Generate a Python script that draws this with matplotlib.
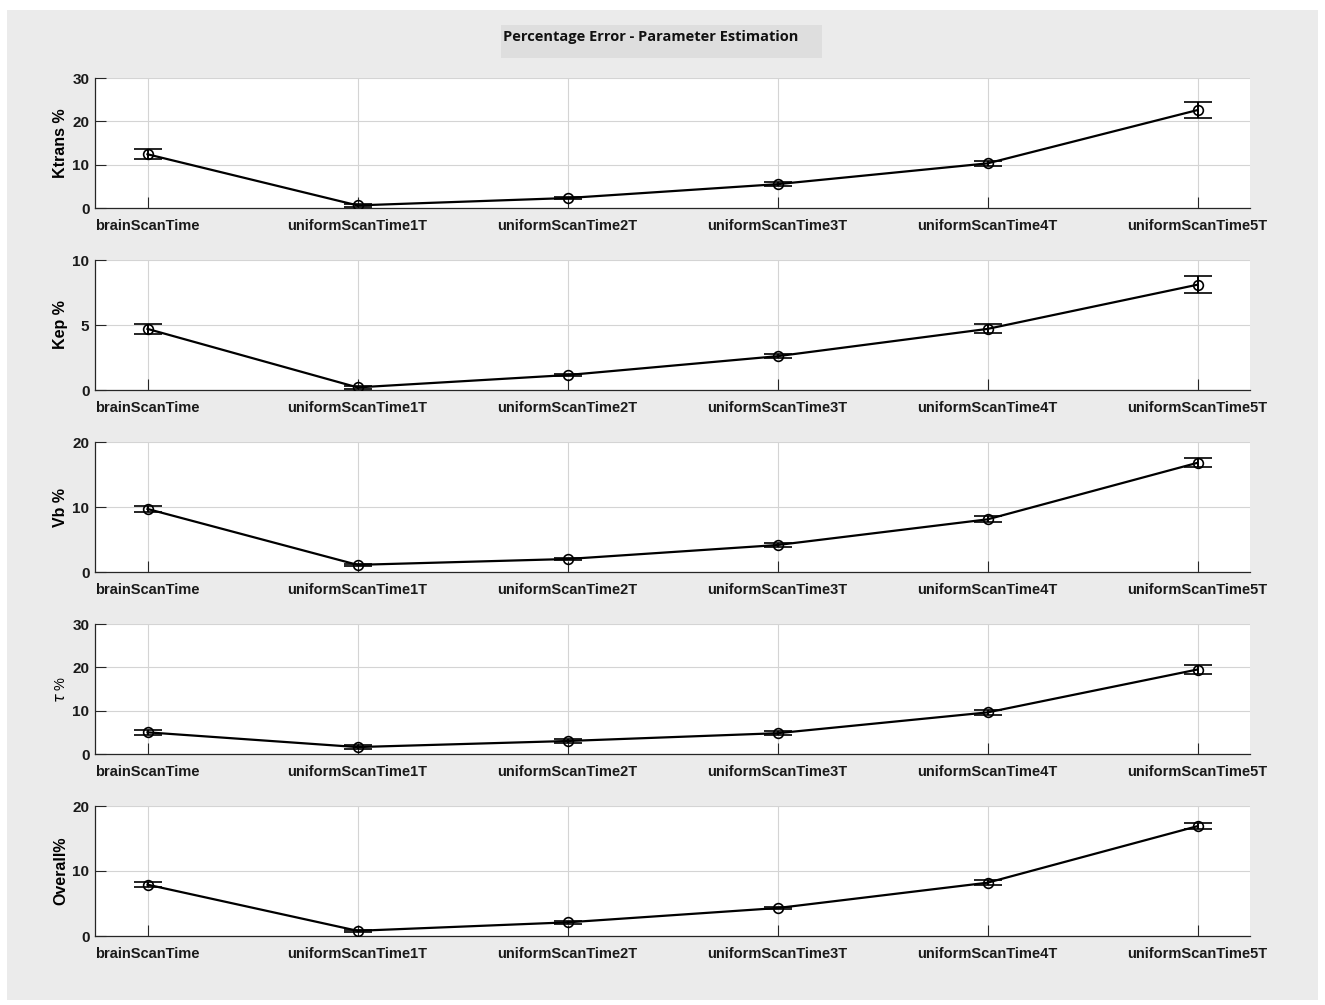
import numpy as np
import matplotlib.pyplot as plt
from matplotlib.patches import Rectangle

scans = ['brainScanTime', 'uniformScanTime1T', 'uniformScanTime2T',
         'uniformScanTime3T', 'uniformScanTime4T', 'uniformScanTime5T']

ktrans = [12.4, 0.6, 2.3, 5.5, 10.3, 22.6]
ktrans_err = [1.1, 0.3, 0.3, 0.4, 0.6, 1.8]
kep = [4.7, 0.2, 1.15, 2.6, 4.7, 8.1]
kep_err = [0.4, 0.1, 0.1, 0.15, 0.35, 0.65]
vb = [9.7, 1.1, 2.0, 4.15, 8.1, 16.8]
vb_err = [0.5, 0.2, 0.2, 0.25, 0.45, 0.7]
tau = [5.0, 1.6, 3.0, 4.8, 9.6, 19.5]
tau_err = [0.5, 0.4, 0.4, 0.4, 0.6, 1.1]
overall = [7.9, 0.8, 2.1, 4.3, 8.2, 16.9]
overall_err = [0.4, 0.2, 0.2, 0.2, 0.35, 0.5]

series = [(ktrans, ktrans_err, 'Ktrans %', 30, [0, 10, 20, 30]),
          (kep, kep_err, 'Kep %', 10, [0, 5, 10]),
          (vb, vb_err, 'Vb %', 20, [0, 10, 20]),
          (tau, tau_err, r'$\tau$ %', 30, [0, 10, 20, 30]),
          (overall, overall_err, 'Overall%', 20, [0, 10, 20])]

plt.rcParams['font.family'] = ['Liberation Sans', 'DejaVu Sans']

W, H = 1325, 1005
fig = plt.figure(figsize=(W / 100, H / 100), dpi=100, facecolor='white')

# grey window panel
fig.patches.append(Rectangle((7 / W, 1 - 1000 / H), 1311 / W, 990 / H,
                             transform=fig.transFigure, facecolor='#ebebeb',
                             edgecolor='none', zorder=-2))
# title box
fig.patches.append(Rectangle((501 / W, 1 - 58 / H), 321 / W, 33 / H,
                             transform=fig.transFigure, facecolor='#dedede',
                             edgecolor='none', zorder=-1))
fig.text(503 / W, 1 - 37 / H, 'Percentage Error - Parameter Estimation',
         fontsize=10.5, fontweight='bold', family='Open Sans',
         va='center', ha='left', color='#111111')

tops = [78, 260, 442, 624, 806]
x = np.arange(len(scans))
for (vals, errs, lab, ymax, yt), top in zip(series, tops):
    ax = fig.add_axes([95 / W, 1 - (top + 130) / H, 1155 / W, 130 / H])
    ax.set_facecolor('white')
    ax.errorbar(x, vals, yerr=errs, color='black', lw=1.6, marker='o',
                ms=7, mfc='none', mec='black', mew=1.2, capsize=10,
                capthick=1.6, elinewidth=1.4, zorder=3)
    ax.set_xlim(-0.25, 5.25)
    ax.set_ylim(0, ymax)
    ax.set_yticks(yt)
    ax.set_xticks(x)
    ax.set_xticklabels(scans, fontsize=10.5, fontweight='bold')
    for t in ax.get_yticklabels():
        t.set_fontsize(11)
        t.set_fontweight('bold')
    ax.grid(True, color='#d4d4d4', lw=0.8)
    ax.set_axisbelow(True)
    for s in ['top', 'right']:
        ax.spines[s].set_visible(False)
    for s in ['left', 'bottom']:
        ax.spines[s].set_color('#262626')
        ax.spines[s].set_linewidth(0.9)
    ax.tick_params(direction='in', length=8, width=0.8, color='#262626',
                   labelcolor='#1a1a1a')
    ax.tick_params(axis='x', pad=8)
    ax.tick_params(axis='y', pad=4)
    if lab.startswith('$'):
        ax.set_ylabel(lab, fontsize=10.5, labelpad=3)
    else:
        ax.set_ylabel(lab, fontsize=11.5, fontweight='bold', labelpad=3)

fig.savefig('out.png', dpi=100, facecolor='white')
